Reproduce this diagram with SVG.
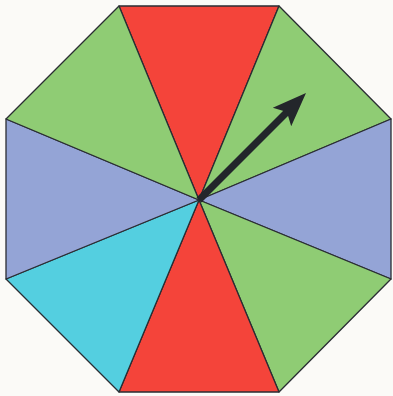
<svg xmlns="http://www.w3.org/2000/svg" width="393" height="396" viewBox="0 0 393 396">
<style>
.s{stroke:#2a2d33;stroke-width:1.3;stroke-linejoin:round}
.r{fill:#f4443a}.g{fill:#8fcc74}.b{fill:#94a4d6}.c{fill:#54cfe0}
</style>
<rect width="393" height="396" fill="#fbfaf7"/>
<g id="sectors">
<g id="s1"><polygon class="s r" points="199,200 119,6 279,6"/></g>
<g id="s2"><polygon class="s g" points="199,200 279,6 391,119"/></g>
<g id="s3"><polygon class="s b" points="199,200 391,119 391,279"/></g>
<g id="s4"><polygon class="s g" points="199,200 391,279 279,392"/></g>
<g id="s5"><polygon class="s r" points="199,200 279,392 119,392"/></g>
<g id="s6"><polygon class="s c" points="199,200 119,392 6,279"/></g>
<g id="s7"><polygon class="s b" points="199,200 6,279 6,119"/></g>
<g id="s8"><polygon class="s g" points="199,200 6,119 119,6"/></g>
</g>
<g id="connectors">
<line x1="199" y1="200" x2="288" y2="111" stroke="#23262b" stroke-width="7"/>
<polygon points="306,93 291.2,126.2 286.9,112.1 272.8,107.8" fill="#23262b"/>
</g>
</svg>
